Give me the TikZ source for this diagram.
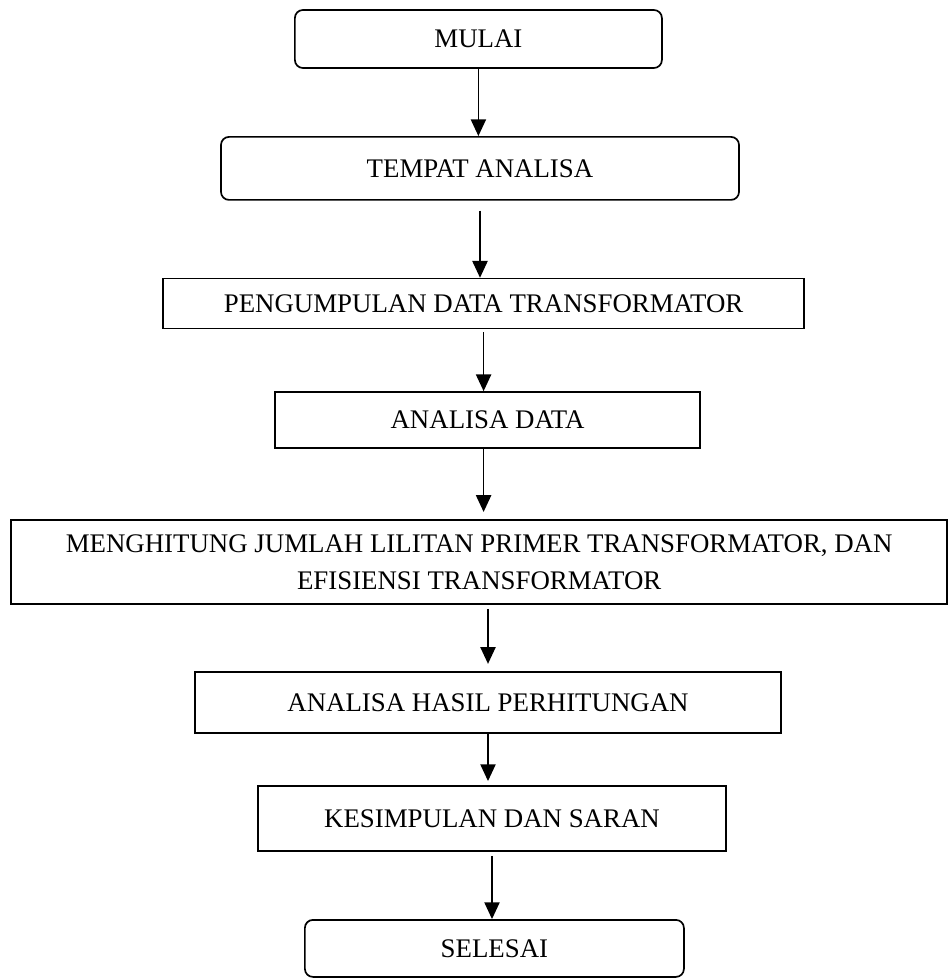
\documentclass[tikz,border=0pt]{standalone}
\usepackage{fontspec}
\setmainfont{Liberation Serif}
\usetikzlibrary{arrows.meta}

\tikzset{
  terminal/.style={draw, line width=1.2pt, rounded corners=0.2cm, inner sep=0pt, align=center},
  process/.style={draw, line width=1.2pt, inner sep=0pt, align=center},
  flow/.style={-{Triangle[length=0.42cm,width=0.38cm]}, line width=1.2pt},
}

\begin{document}
\begin{tikzpicture}[font=\fontsize{19.1}{26.3}\selectfont]

\useasboundingbox (0,0) rectangle (23.775,-24.45);

\node [terminal, minimum width=9.175cm, minimum height=1.45cm]  (fc-mulai) at (11.96,-0.975) {MULAI};
\node [terminal, minimum width=12.95cm, minimum height=1.575cm] (fc-tempat) at (12.0,-4.21) {TEMPAT ANALISA};
\draw [flow]   (fc-mulai.south) -- (fc-mulai.south |- fc-tempat.north);

\node [process, minimum width=16.03cm, minimum height=1.25cm] (fc-kumpul) at (12.09,-7.59) {PENGUMPULAN DATA TRANSFORMATOR};
\draw [flow, shorten <=0.25cm]   (fc-tempat.south) -- (fc-tempat.south |- fc-kumpul.north);

\node [process, minimum width=10.63cm, minimum height=1.4cm] (fc-analisa) at (12.19,-10.5) {ANALISA DATA};
\draw [flow, shorten <=0.07cm]   (fc-kumpul.south) -- (fc-kumpul.south |- fc-analisa.north);

\node [process, minimum width=23.4cm, minimum height=2.1cm] (fc-hitung) at (11.98,-14.05)
  {MENGHITUNG JUMLAH LILITAN PRIMER TRANSFORMATOR, DAN\\EFISIENSI TRANSFORMATOR};
\draw [flow, shorten >=0.18cm]   (fc-kumpul.south |- fc-analisa.south) -- (fc-kumpul.south |- fc-hitung.north);

\node [process, minimum width=14.65cm, minimum height=1.525cm] (fc-hasil) at (12.2,-17.56) {ANALISA HASIL PERHITUNGAN};
\draw [flow, shorten <=0.1cm, shorten >=0.18cm]   (fc-hasil.north |- fc-hitung.south) -- (fc-hasil.north);

\node [process, minimum width=11.7cm, minimum height=1.625cm] (fc-simpul) at (12.3,-20.46) {KESIMPULAN DAN SARAN};
\draw [flow, shorten >=0.1cm]   (fc-hasil.south) -- (fc-hasil.south |- fc-simpul.north);

\node [terminal, minimum width=9.475cm, minimum height=1.425cm] (fc-selesai) at (12.36,-23.71) {SELESAI};
\draw [flow, shorten <=0.1cm]   (fc-simpul.south) -- (fc-simpul.south |- fc-selesai.north);

\end{tikzpicture}
\end{document}
